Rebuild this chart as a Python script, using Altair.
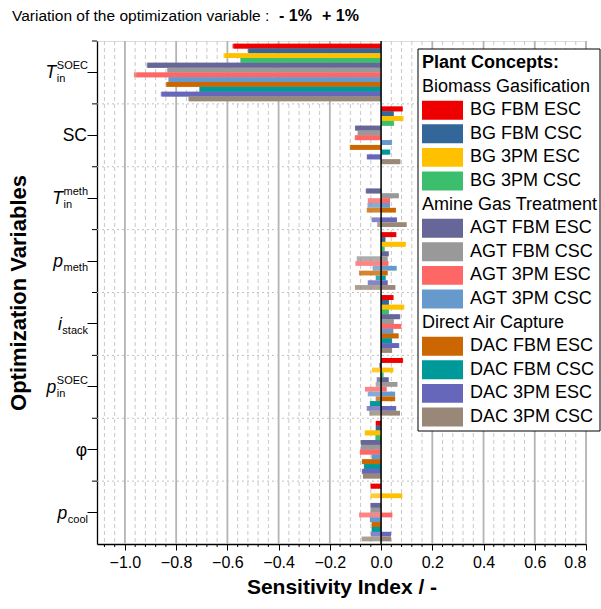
import altair as alt
import pandas as pd
import numpy as np

# ---------------- data ----------------
variables = ["T_SOEC", "SC", "T_meth", "p_meth", "i_stack", "p_SOEC", "phi", "p_cool"]
label_main = ["T", "SC", "T", "p", "i", "p", "φ", "p"]
label_sup = ["SOEC", "", "meth", "", "", "SOEC", "", ""]
label_sub = ["in", "", "in", "meth", "stack", "in", "", "cool"]
label_italic = [True, False, True, True, True, True, False, True]

concepts = ["BG FBM ESC", "BG FBM CSC", "BG 3PM ESC", "BG 3PM CSC",
            "AGT FBM ESC", "AGT FBM CSC", "AGT 3PM ESC", "AGT 3PM CSC",
            "DAC FBM ESC", "DAC FBM CSC", "DAC 3PM ESC", "DAC 3PM CSC"]
colors = ["#ee0000", "#336699", "#ffc000", "#3cbf6c",
          "#666699", "#999999", "#ff6666", "#6699cc",
          "#cc6600", "#009999", "#6666bb", "#998877"]
groups = ["Biomass Gasification", "Amine Gas Treatment", "Direct Air Capture"]

T_SOEC_minus = [-0.580, -0.520, -0.615, -0.550, -0.915, -0.835, -0.965, -0.830, -0.840, -0.710, -0.860, -0.752]
T_SOEC_plus = [-0.574, -0.516, -0.609, -0.547, -0.911, -0.833, -0.955, -0.829, -0.836, -0.707, -0.855, -0.750]
SC_minus = [0.085, 0.050, 0.088, 0.051, -0.102, -0.092, -0.103, 0.043, -0.122, 0.036, -0.056, 0.076]
SC_plus = [0.083, 0.048, 0.084, 0.049, -0.100, -0.090, -0.100, 0.041, -0.120, 0.034, -0.054, 0.074]
T_meth_minus = [0.0, 0.0, 0.0, 0.0, -0.060, 0.070, -0.052, -0.053, -0.056, 0.0, -0.037, -0.015]
T_meth_plus = [0.0, 0.0, 0.0, 0.0, -0.057, 0.068, 0.035, 0.035, 0.058, 0.0, 0.062, 0.100]
p_meth_minus = [0.060, 0.017, 0.097, 0.014, 0.030, -0.095, -0.100, -0.033, -0.086, -0.021, -0.052, -0.102]
p_meth_plus = [0.058, 0.016, 0.095, 0.013, 0.029, 0.026, 0.029, 0.061, 0.026, 0.018, 0.026, 0.056]
i_stack_minus = [0.049, 0.031, 0.091, 0.031, 0.075, 0.050, 0.080, 0.048, 0.069, 0.043, 0.071, 0.043]
i_stack_plus = [0.047, 0.030, 0.088, 0.030, 0.073, 0.049, 0.077, 0.047, 0.067, 0.042, 0.069, 0.042]
p_SOEC_minus = [0.086, -0.006, -0.036, -0.004, -0.017, -0.021, -0.063, -0.052, -0.021, -0.044, -0.056, -0.046]
p_SOEC_plus = [0.084, -0.005, 0.048, 0.010, 0.030, 0.064, 0.022, 0.055, 0.055, -0.042, 0.059, 0.074]
phi_minus = [-0.021, -0.021, -0.064, -0.022, -0.079, -0.079, -0.083, -0.037, -0.075, -0.067, -0.075, -0.071]
phi_plus = [-0.020, -0.020, -0.062, -0.021, -0.078, -0.078, -0.082, -0.036, -0.074, -0.066, -0.074, -0.070]
p_cool_minus = [-0.041, 0.0, -0.041, 0.0, -0.041, -0.041, -0.086, -0.044, -0.037, -0.037, -0.040, -0.076]
p_cool_plus = [-0.040, 0.0, 0.083, 0.0, -0.040, -0.040, 0.044, -0.043, -0.036, -0.036, 0.039, 0.039]

x_tick_labels = [-1.0, -0.8, -0.6, -0.4, -0.2, 0.0, 0.2, 0.4, 0.6, 0.8]

minus_sets = [T_SOEC_minus, SC_minus, T_meth_minus, p_meth_minus, i_stack_minus, p_SOEC_minus, phi_minus, p_cool_minus]
plus_sets = [T_SOEC_plus, SC_plus, T_meth_plus, p_meth_plus, i_stack_plus, p_SOEC_plus, phi_plus, p_cool_plus]

rows = []
for v, mn, pl in zip(variables, minus_sets, plus_sets):
    for c, a, b in zip(concepts, mn, pl):
        rows.append({"var": v, "concept": c, "minus": a, "plus": b})
df = pd.DataFrame(rows)

# ---------------- layout ----------------
W, H = 489, 503
PAD_L, PAD_T = 97, 41
XMIN, XMAX = -1.109, 0.8
FONT = "Liberation Sans"

xscale = alt.Scale(domain=[XMIN, XMAX], nice=False, zero=False)
yscale = alt.Scale(domain=variables, paddingInner=0, paddingOuter=0)
yoscale = alt.Scale(domain=concepts, paddingInner=0, paddingOuter=0.55)
cscale = alt.Scale(domain=concepts, range=colors)

minor_vals = [round(v, 2) for v in np.arange(-1.08, 0.8001, 0.04) if abs(round(v / 0.2) * 0.2 - v) > 1e-6]
major_vals = [v for v in x_tick_labels if v != 0.0]

minor_grid = alt.Chart(pd.DataFrame({"v": minor_vals})).mark_rule(
    color="#c8c8c8", strokeWidth=1, strokeDash=[4, 3]
).encode(x=alt.X("v:Q", scale=xscale, axis=None))

major_grid = alt.Chart(pd.DataFrame({"v": major_vals})).mark_rule(
    color="#b4b4b4", strokeWidth=1.8
).encode(x=alt.X("v:Q", scale=xscale, axis=None))

minor_xticks = alt.Chart(pd.DataFrame({"v": minor_vals})).mark_rule(
    color="black", strokeWidth=1
).encode(x=alt.X("v:Q", scale=xscale, axis=None), y=alt.value(H), y2=alt.value(H + 3))

hlines = alt.Chart(pd.DataFrame({"var": variables[1:]})).mark_rule(
    color="#c0c0c0", strokeWidth=1, strokeDash=[2, 3]
).encode(y=alt.Y("var:N", scale=yscale, axis=None, bandPosition=0),
         x=alt.value(0), x2=alt.value(W))

minor_yticks = alt.Chart(pd.DataFrame({"var": variables})).mark_rule(
    color="black", strokeWidth=1
).encode(y=alt.Y("var:N", scale=yscale, axis=None, bandPosition=0),
         x=alt.value(-5), x2=alt.value(0))

bars_minus = alt.Chart(df).mark_bar(opacity=0.8).encode(
    x=alt.X("minus:Q", scale=xscale, axis=None),
    x2=alt.datum(0),
    y=alt.Y("var:N", scale=yscale, axis=None),
    yOffset=alt.YOffset("concept:N", scale=yoscale),
    color=alt.Color("concept:N", scale=cscale, legend=None),
)

bars_plus = alt.Chart(df).mark_bar().encode(
    x=alt.X("plus:Q", scale=xscale,
            axis=alt.Axis(values=x_tick_labels, format=".1f", labelFontSize=16, labelFont=FONT,
                          labelColor="black", tickSize=6, tickColor="black", labelPadding=4,
                          domainColor="black", domainWidth=1.3, grid=False,
                          title="Sensitivity Index / -", titleFontSize=21, titleFont=FONT,
                          titleFontWeight="bold", titleColor="black", titlePadding=6)),
    x2=alt.datum(0),
    y=alt.Y("var:N", scale=yscale,
            axis=alt.Axis(labels=False, tickSize=10, tickColor="black", domainColor="black",
                          domainWidth=1.3, grid=False,
                          title="Optimization Variables", titleFontSize=22, titleFont=FONT,
                          titleFontWeight="bold", titleColor="black",
                          titleX=-79, titleY=H / 2, titleAlign="center", titleBaseline="middle",
                          titleAngle=270)),
    yOffset=alt.YOffset("concept:N", scale=yoscale),
    color=alt.Color("concept:N", scale=cscale, legend=None),
)

zero_line = alt.Chart(pd.DataFrame({"v": [0.0]})).mark_rule(color="black", strokeWidth=1.5).encode(
    x=alt.X("v:Q", scale=xscale, axis=None))

# ---------------- y labels with sub/superscripts ----------------
AW = {'S': .667, 'O': .778, 'E': .667, 'C': .722, 'i': .222, 'n': .556, 'm': .833, 'e': .556,
      't': .278, 'h': .556, 's': .5, 'a': .556, 'c': .5, 'k': .5, 'o': .556, 'l': .222}


def tw(s, size):
    return sum(AW.get(ch, .556) for ch in s) * size


MAIN_FS, SCRIPT_FS = 17.5, 11
label_layers = []
for v, m, sp, sb, it in zip(variables, label_main, label_sup, label_sub, label_italic):
    d = pd.DataFrame({"var": [v]})
    wsc = max(tw(sp, SCRIPT_FS), tw(sb, SCRIPT_FS))
    right = -9
    if wsc > 0:
        xs = right - wsc
        xm = xs - 0.5
    else:
        xm = right - 1
    label_layers.append(alt.Chart(d).mark_text(
        text=m, font=FONT, fontSize=MAIN_FS, fontStyle="italic" if it else "normal",
        align="right", baseline="alphabetic", dy=6, color="black"
    ).encode(y=alt.Y("var:N", scale=yscale, axis=None), x=alt.value(xm)))
    if sp:
        label_layers.append(alt.Chart(d).mark_text(
            text=sp, font=FONT, fontSize=SCRIPT_FS, align="left", baseline="alphabetic", dy=-3,
            color="black").encode(y=alt.Y("var:N", scale=yscale, axis=None), x=alt.value(xs)))
    if sb:
        label_layers.append(alt.Chart(d).mark_text(
            text=sb, font=FONT, fontSize=SCRIPT_FS, align="left", baseline="alphabetic", dy=10,
            color="black").encode(y=alt.Y("var:N", scale=yscale, axis=None), x=alt.value(xs)))

# ---------------- legend ----------------
leg_rows = [("Plant Concepts:", "title", "")]
for gi, g in enumerate(groups):
    leg_rows.append((g, "header", ""))
    for k in range(4):
        leg_rows.append((concepts[gi * 4 + k], "item", colors[gi * 4 + k]))
leg = pd.DataFrame(leg_rows, columns=["label", "kind", "color"])
leg["row"] = range(len(leg))
leg["top"] = leg["row"] - 0.4
leg["bot"] = leg["row"] + 0.4
lscale = alt.Scale(domain=[0, len(leg) - 1], range=[22, 376])
LEG_FS = 18

leg_box = alt.Chart(pd.DataFrame({"a": [0]})).mark_rect(
    fill="white", stroke="black", strokeWidth=1
).encode(x=alt.value(321), x2=alt.value(503), y=alt.value(8), y2=alt.value(390))

leg_title = alt.Chart(leg[leg.kind == "title"]).mark_text(
    font=FONT, fontSize=LEG_FS, fontWeight="bold", align="left", baseline="middle", color="black"
).encode(x=alt.value(325), y=alt.Y("row:Q", scale=lscale, axis=None), text="label:N")

leg_head = alt.Chart(leg[leg.kind == "header"]).mark_text(
    font=FONT, fontSize=LEG_FS, align="left", baseline="middle", color="black"
).encode(x=alt.value(325), y=alt.Y("row:Q", scale=lscale, axis=None), text="label:N")

leg_items = leg[leg.kind == "item"]
leg_sw = alt.Chart(leg_items).mark_rect().encode(
    x=alt.value(325), x2=alt.value(366),
    y=alt.Y("top:Q", scale=lscale, axis=None), y2="bot:Q",
    color=alt.Color("label:N", scale=cscale, legend=None))

leg_txt = alt.Chart(leg_items).mark_text(
    font=FONT, fontSize=LEG_FS, align="left", baseline="middle", color="black"
).encode(x=alt.value(373), y=alt.Y("row:Q", scale=lscale, axis=None), text="label:N")

# ---------------- top caption ----------------
cap = pd.DataFrame({"a": [0]})
cap1 = alt.Chart(cap).mark_text(text="Variation of the optimization variable :", font=FONT, fontSize=15.5,
                                align="left", baseline="middle", color="black").encode(
    x=alt.value(-85), y=alt.value(-25))
cap2 = alt.Chart(cap).mark_text(text="- 1%", font=FONT, fontSize=16, fontWeight="bold",
                                align="left", baseline="middle", color="black").encode(
    x=alt.value(182), y=alt.value(-25))
cap3 = alt.Chart(cap).mark_text(text="+ 1%", font=FONT, fontSize=16, fontWeight="bold",
                                align="left", baseline="middle", color="black").encode(
    x=alt.value(225), y=alt.value(-25))

chart = alt.layer(
    minor_grid, major_grid, hlines, bars_minus, bars_plus, zero_line, minor_xticks, minor_yticks,
    *label_layers, leg_box, leg_title, leg_head, leg_sw, leg_txt, cap1, cap2, cap3
).resolve_scale(y="independent", color="shared").resolve_axis(x="independent").properties(
    width=W, height=H,
    autosize=alt.AutoSizeParams(type="none"),
    padding={"left": PAD_L, "top": PAD_T, "right": 601 - PAD_L - W, "bottom": 609 - PAD_T - H},
).configure_view(stroke=None).configure(font=FONT)

chart.save("out.html", embed_options={"renderer": "svg", "actions": False})
